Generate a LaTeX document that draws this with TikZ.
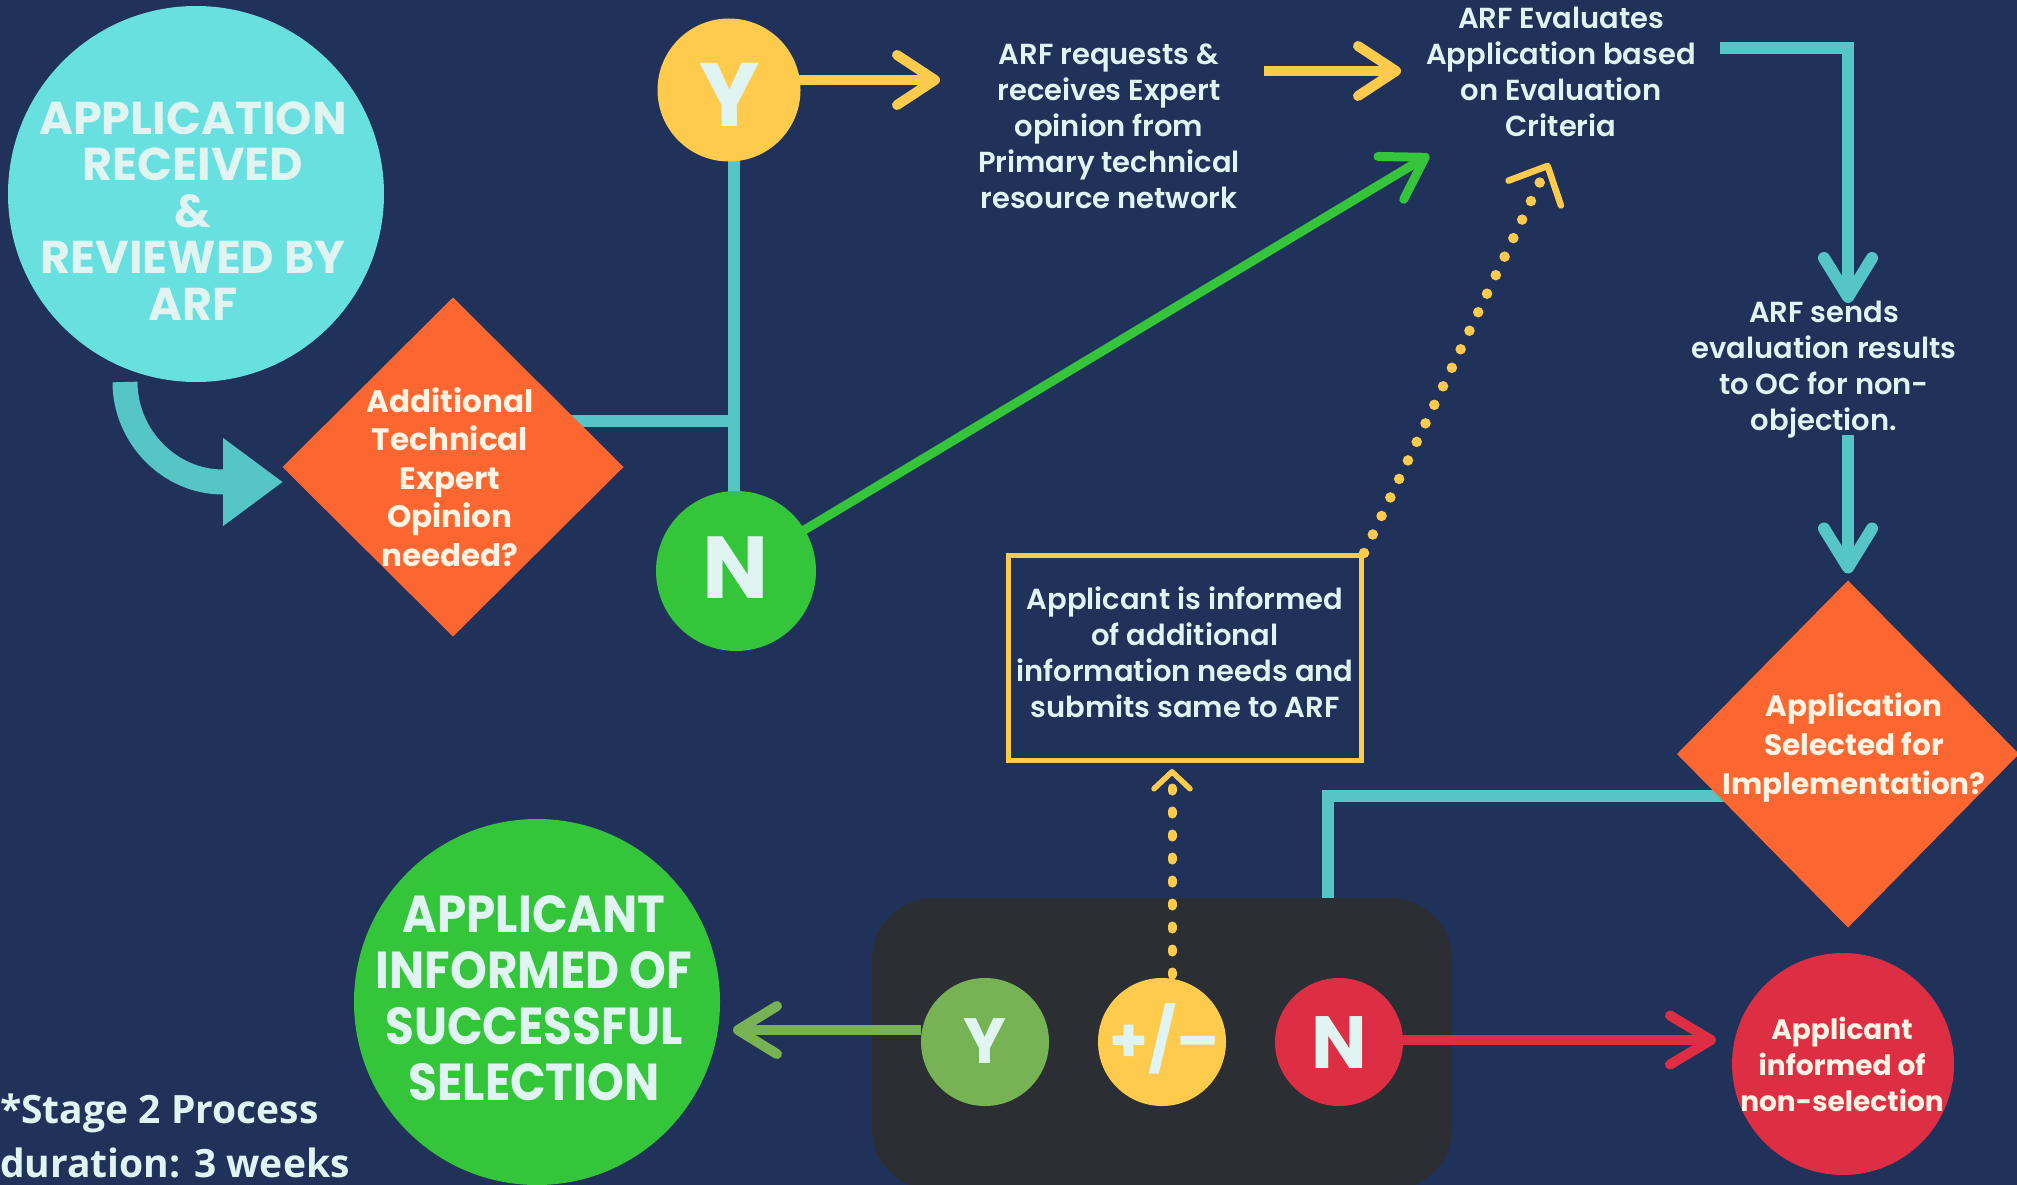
\documentclass[tikz,border=0pt]{standalone}
\usepackage{fontspec}
\setmainfont{Poppins}
\newfontfamily\popsemi{Poppins}[UprightFont=* SemiBold, BoldFont=* SemiBold]
\newfontfamily\popnarrow{Poppins}[FakeStretch=0.9]
\newfontfamily\osansfam{Open Sans}
\usetikzlibrary{shapes.geometric,arrows.meta}
\pgfdeclarelayer{bg}
\pgfdeclarelayer{lines}
\pgfsetlayers{bg,lines,main}
\definecolor{bgnavy}{HTML}{21325A}
\definecolor{cyanc}{HTML}{67E0DF}
\definecolor{tealc}{HTML}{56C5C7}
\definecolor{orangec}{HTML}{FC6630}
\definecolor{yellowc}{HTML}{FFCB4D}
\definecolor{greenc}{HTML}{34C53A}
\definecolor{ygreenc}{HTML}{77B255}
\definecolor{redc}{HTML}{DD2E44}
\definecolor{panelc}{HTML}{2B2E33}
\definecolor{txtl}{HTML}{E0F4F2}
\definecolor{creamc}{HTML}{FFF4E4}
\newcommand\bodyfnt{\popsemi\fontsize{29}{36}\selectfont}
\tikzset{
  disc/.style={circle, inner sep=0pt, outer sep=0pt},
  dia/.style={diamond, fill=orangec, inner sep=0pt, outer sep=0pt},
  lbl/.style={text=txtl, align=center, inner sep=0pt, font=\bodyfnt},
  creamlbl/.style={text=creamc, align=center, inner sep=0pt},
  letter/.style={text=txtl, inner sep=0pt},
  tealline/.style={draw=tealc, line width=12pt},
  tealarrow/.style={draw=tealc, line width=12pt, line join=miter, -{Straight Barb[length=39pt,width=48pt,round]}},
  yelarrow/.style={draw=yellowc, line width=10pt, -{Straight Barb[length=38pt,width=50pt,round]}},
  greenarrow/.style={draw=greenc, line width=9pt, -{Straight Barb[length=40pt,width=50pt,round]}},
  ygreenarrow/.style={draw=ygreenc, line width=10pt, -{Straight Barb[length=39pt,width=48pt,round]}},
  redarrow/.style={draw=redc, line width=10pt, -{Straight Barb[length=41pt,width=49pt,round]}},
  bandarrow/.style={draw=tealc, line width=25pt, -{Triangle[length=60pt,width=84pt]}},
  dotvert/.style={draw=yellowc, line width=9pt, line cap=round, dash pattern=on 3pt off 20pt, -{Straight Barb[length=17pt,width=36pt,line width=5.5pt,round]}},
  dotdiag/.style={draw=yellowc, line width=10.5pt, line cap=round, dash pattern=on 0pt off 20.5pt, -{Straight Barb[length=30pt,width=58pt,line width=6.5pt,round]}},
}
\begin{document}
\begin{tikzpicture}[x=1pt,y=-1pt]
\begin{pgfonlayer}{bg}
\fill[bgnavy] (0,0) rectangle (2017,1185);
\end{pgfonlayer}
\useasboundingbox (0,0) rectangle (2017,1185);

% ---------- shapes ----------
\node[disc, fill=cyanc, minimum size=376pt] (recv) at (196,194) {};
\node[dia, minimum width=341pt, minimum height=339pt] (need) at (453,467) {};
\node[disc, fill=yellowc, minimum size=143pt] (yes1) at (729,90) {};
\node[disc, fill=greenc, minimum size=160pt] (no1) at (736,571) {};
\node[dia, minimum width=342pt, minimum height=347pt] (sel) at (1848,754) {};
\node[rectangle, rounded corners=62pt, fill=panelc, inner sep=0pt, minimum width=580pt, minimum height=292pt] (panel) at (1162,1044) {};
\node[disc, fill=greenc, minimum size=366pt] (succ) at (537,1002) {};
\node[disc, fill=redc, minimum size=222pt] (nonsel) at (1843,1064) {};
\node[draw=yellowc, line width=5pt, inner sep=0pt, minimum width=353pt, minimum height=205pt] (info) at (1185,658) {};

% ---------- named free ends ----------
\coordinate (jn) at (734,421);
\coordinate (ya) at (940,80);
\coordinate (yb0) at (1264,71);
\coordinate (yb) at (1401,71);
\coordinate (gtip) at (1429,155);
\coordinate (ev0) at (1720,48);
\coordinate (sendin) at (1848,303);
\coordinate (send0) at (1848,435);
\coordinate (selout) at (1727,796);
\coordinate (bandstart) at (125,382);
\coordinate (bandend) at (223,482);
\coordinate (bandtip) at (283,482);
\coordinate (boxin) at (1172,769);
\coordinate (pmtop) at (1172,975);
\coordinate (evalin) at (1549,163);
\coordinate (succin) at (733,1030);
\coordinate (redtip) at (1716,1040);

% ---------- connectors behind shapes ----------
\begin{pgfonlayer}{lines}
\draw[tealline] (need.center |- jn) -- (jn);
\draw[tealline] (yes1.center -| jn) -- (no1.center -| jn);
\draw[yelarrow] (yes1.center |- ya) -- (ya);
\draw[yelarrow] (yb0) -- (yb);
\draw[greenarrow] (no1.center) -- (gtip);
\draw[tealarrow] (ev0) -| (sendin);
\draw[tealarrow] (send0) -- ([yshift=7pt]sel.north);
\draw[tealline, line join=miter] (selout) -| ([xshift=166pt]panel.center);
\draw[bandarrow] (bandstart) .. controls +(0,54) and +(-54,0) .. (bandend) -- (bandtip);
\draw[dotdiag] (info.north east) -- (evalin);
\end{pgfonlayer}

% ---------- connectors over the panel ----------
\draw[dotvert] (pmtop) -- (boxin);
\node[disc, fill=ygreenc, minimum size=128pt] (yes2) at (985,1042) {};
\node[disc, fill=yellowc, minimum size=128pt] (pm) at (1162,1042) {};
\node[disc, fill=redc, minimum size=128pt] (no2) at (1339,1042) {};
\draw[ygreenarrow] (yes2.west |- succin) -- (succin);
\draw[redarrow] (no2.east |- redtip) -- (redtip);

% ---------- texts ----------
\node[letter, font=\fontsize{46}{46.5}\selectfont\bfseries, align=center] (recv-t) at (193,211)
  {APPLICATION\\RECEIVED\\\&\\REVIEWED BY\\ARF};
\node[creamlbl, font=\fontsize{31}{38.5}\selectfont\bfseries] (need-t) at (450,477)
  {Additional\\Technical\\Expert\\Opinion\\needed?};
\node[letter, font=\fontsize{90}{90}\selectfont\bfseries] (yes1-t) at (730,95) {Y};
\node[letter, font=\fontsize{88}{88}\selectfont\bfseries] (no1-t) at (736,568) {N};
\node[lbl] (req) at (1109,126) {ARF requests \&\\receives Expert\\opinion from\\Primary technical\\resource network};
\node[lbl] (eval) at (1561,72) {ARF Evaluates\\Application based\\on Evaluation\\Criteria};
\node[lbl] (send) at (1824,370) {ARF sends\\evaluation results\\to OC for non-\\objection.};
\node[lbl] (info-t) at (1185,652) {Applicant is informed\\of additional\\information needs and\\submits same to ARF};
\node[creamlbl, font=\fontsize{29.5}{39}\selectfont\bfseries] (sel-t) at (1854,748)
  {Application\\Selected for\\Implementation?};
\node[letter, font=\fontsize{64}{64}\selectfont\bfseries] (yes2-t) at (985,1041) {Y};
\node[letter, font=\fontsize{62}{62}\selectfont\bfseries] (pm-t) at (1165,1039) {+/–};
\node[letter, font=\fontsize{74}{74}\selectfont\bfseries] (no2-t) at (1339,1043) {N};
\node[letter, align=center, font=\popnarrow\fontsize{52}{56}\selectfont\bfseries] (succ-t) at (534,998)
  {APPLICANT\\INFORMED OF\\SUCCESSFUL\\SELECTION};
\node[creamlbl, font=\fontsize{28}{36}\selectfont\bfseries] (nonsel-t) at (1842,1064)
  {Applicant\\informed of\\non-selection};
\node[text=txtl, align=left, inner sep=0pt, anchor=west, font=\osansfam\fontsize{39}{54}\selectfont\bfseries] (note) at (0,1136)
  {*Stage 2 Process\\duration: 3 weeks};
\end{tikzpicture}
\end{document}
